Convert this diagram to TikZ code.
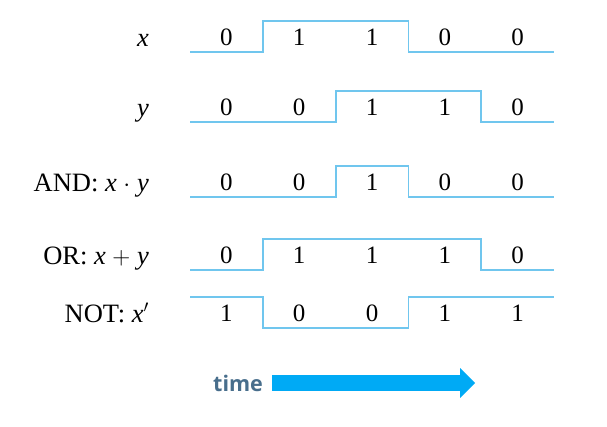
\documentclass[tikz,border=0pt]{standalone}
\usepackage{fontspec}
\setmainfont{Liberation Serif}
\newfontfamily\timefont{Open Sans}
\usetikzlibrary{positioning,arrows.meta}

\definecolor{waveblue}{RGB}{112,198,238}
\definecolor{arrowblue}{RGB}{0,170,245}
\definecolor{timegrey}{RGB}{72,110,140}

\tikzset{
  wave/.style={draw=waveblue, line width=1.8pt},
  bit/.style={anchor=base, inner sep=0pt, font=\fontsize{25}{30}\selectfont},
  signame/.style={anchor=base east, inner sep=0pt, font=\fontsize{26.5}{31}\selectfont},
  timelbl/.style={inner sep=0pt, text=timegrey, font=\timefont\bfseries\fontsize{21.5}{25}\selectfont},
  timearrow/.style={draw=arrowblue, line width=16pt, -{Triangle[length=15pt,width=29pt]}},
}

\begin{document}
\begin{tikzpicture}[x=1pt,y=-1pt]
\useasboundingbox (0,0) rectangle (607,426);
% name / low level / label / bits
\foreach \s/\lo/\lbl/\bits in {
  x/52/{\textit{x}}/{0,1,1,0,0},
  y/122/{\textit{y}}/{0,0,1,1,0},
  and/197/{AND: \textit{x} $\cdot$ \textit{y}}/{0,0,1,0,0},
  or/270/{OR: \textit{x} $+$ \textit{y}}/{0,1,1,1,0},
  not/328/{NOT: \textit{x}$'$}/{1,0,0,1,1}}{
  \node[signame] (\s) at (149,\lo-6) {\lbl};
  \pgfmathsetmacro{\first}{{\bits}[0]}
  \draw[wave] (190,\lo-31*\first)
    \foreach \b [count=\i] in \bits {-- (190+72.8*\i-72.8,\lo-31*\b) -- (190+72.8*\i,\lo-31*\b)};
  \foreach \b [count=\i] in \bits
    \node[bit] (\s-\i) at (190+72.8*\i-36.4,\lo-7) {\b};
}
% time arrow
\node[timelbl, anchor=west] (time) at (213,383) {time};
\coordinate[right=9pt of time] (tail);
\coordinate[right=203pt of tail] (tip);
\draw[timearrow] (tail) -- (tip);
\end{tikzpicture}
\end{document}
